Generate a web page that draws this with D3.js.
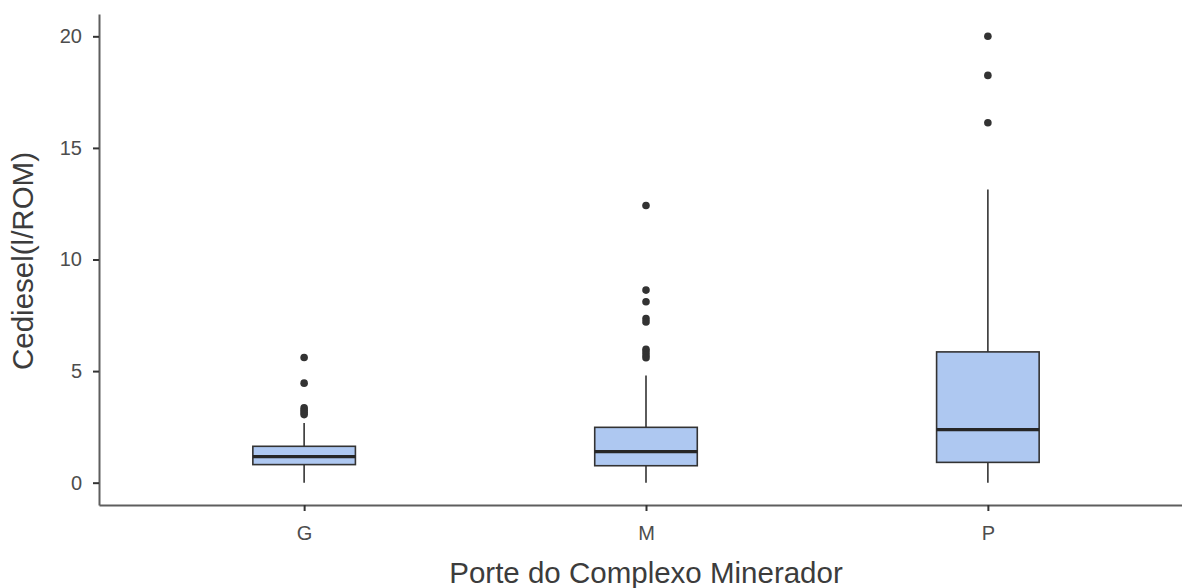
<!DOCTYPE html>
<html>
<head>
<meta charset="utf-8">
<script src="https://cdn.jsdelivr.net/npm/d3@7/dist/d3.min.js"></script>
<style>
  html, body { margin: 0; padding: 0; background: #ffffff; }
  svg { display: block; }
</style>
</head>
<body>
<svg id="chart" width="1182" height="588"></svg>
<script>
// ---- Data ----
const categories = ["G", "M", "P"];
const whiskerLow  = [0.0, 0.0, 0.0];
const q1          = [0.81, 0.76, 0.91];
const medians     = [1.17, 1.39, 2.38];
const q3          = [1.63, 2.48, 5.86];
const whiskerHigh = [2.67, 4.80, 13.14];
const outliersG = [5.61, 4.46, 3.35, 3.25, 3.15, 3.05];
const outliersM = [12.42, 8.63, 8.11, 7.35, 7.2, 5.98, 5.85, 5.72, 5.6];
const outliersP = [20.0, 18.25, 16.13];
const outliers = [outliersG, outliersM, outliersP];
const yTicks = [0, 5, 10, 15, 20];
const xTitle = "Porte do Complexo Minerador";
const yTitle = "Cediesel(l/ROM)";

// ---- Layout ----
const svg = d3.select("#chart");
svg.append("rect").attr("width", 1182).attr("height", 588).attr("fill", "#ffffff");

const panel = { left: 99, right: 1193, top: 14, bottom: 505 };

const x = d3.scalePoint()
  .domain(categories)
  .range([panel.left, panel.right])
  .padding(0.6);

const y = d3.scaleLinear()
  .domain([-1.0, 21.0])
  .range([panel.bottom, panel.top]);

const boxW = x.step() * 0.3;
const strokeCol = "#333333";
const axisCol = "#5e5e5e";
const tickTextCol = "#4d4d4d";
const font = "'Liberation Sans', Arial, Helvetica, sans-serif";

const data = categories.map((c, i) => ({
  cat: c, lo: whiskerLow[i], q1: q1[i], med: medians[i], q3: q3[i], hi: whiskerHigh[i], out: outliers[i]
}));

const g = svg.append("g");

// whiskers
g.selectAll("line.wh-up").data(data).join("line")
  .attr("x1", d => x(d.cat)).attr("x2", d => x(d.cat))
  .attr("y1", d => y(d.q3)).attr("y2", d => y(d.hi))
  .attr("stroke", strokeCol).attr("stroke-width", 1.6);
g.selectAll("line.wh-lo").data(data).join("line")
  .attr("x1", d => x(d.cat)).attr("x2", d => x(d.cat))
  .attr("y1", d => y(d.q1)).attr("y2", d => y(d.lo))
  .attr("stroke", strokeCol).attr("stroke-width", 1.6);

// boxes
g.selectAll("rect.box").data(data).join("rect")
  .attr("x", d => x(d.cat) - boxW / 2)
  .attr("width", boxW)
  .attr("y", d => y(d.q3))
  .attr("height", d => y(d.q1) - y(d.q3))
  .attr("fill", "#aec8f1")
  .attr("stroke", strokeCol).attr("stroke-width", 1.6);

// medians
g.selectAll("line.med").data(data).join("line")
  .attr("x1", d => x(d.cat) - boxW / 2).attr("x2", d => x(d.cat) + boxW / 2)
  .attr("y1", d => y(d.med)).attr("y2", d => y(d.med))
  .attr("stroke", "#262626").attr("stroke-width", 3.2);

// outliers
const outPts = data.flatMap(d => d.out.map(v => ({ cat: d.cat, v })));
g.selectAll("circle.out").data(outPts).join("circle")
  .attr("cx", d => x(d.cat)).attr("cy", d => y(d.v))
  .attr("r", 3.8).attr("fill", "#333333");

// ---- Axes ----
const yAxis = svg.append("g")
  .attr("transform", `translate(${panel.left},0)`)
  .call(d3.axisLeft(y).tickValues(yTicks).tickSize(6).tickSizeOuter(0).tickPadding(11));
yAxis.select(".domain").attr("stroke", axisCol).attr("stroke-width", 2);
yAxis.selectAll(".tick line").attr("stroke", "#333333").attr("stroke-width", 2);
yAxis.selectAll(".tick text")
  .attr("fill", tickTextCol).style("font-family", font).style("font-size", "20px");

const xAxis = svg.append("g")
  .attr("transform", `translate(0,${panel.bottom})`)
  .call(d3.axisBottom(x).tickSize(6).tickSizeOuter(0).tickPadding(15));
xAxis.select(".domain").attr("stroke", axisCol).attr("stroke-width", 2);
xAxis.selectAll(".tick line").attr("stroke", "#333333").attr("stroke-width", 2);
xAxis.selectAll(".tick text")
  .attr("fill", tickTextCol).style("font-family", font).style("font-size", "20px");

// ---- Titles ----
svg.append("text")
  .attr("x", (panel.left + panel.right) / 2).attr("y", 583)
  .attr("text-anchor", "middle")
  .attr("fill", "#3c3c3c")
  .style("font-family", font).style("font-size", "29.5px")
  .text(xTitle);

svg.append("text")
  .attr("transform", "translate(33,261) rotate(-90)")
  .attr("text-anchor", "middle")
  .attr("fill", "#3c3c3c")
  .style("font-family", font).style("font-size", "29.5px")
  .text(yTitle);
</script>
</body>
</html>
